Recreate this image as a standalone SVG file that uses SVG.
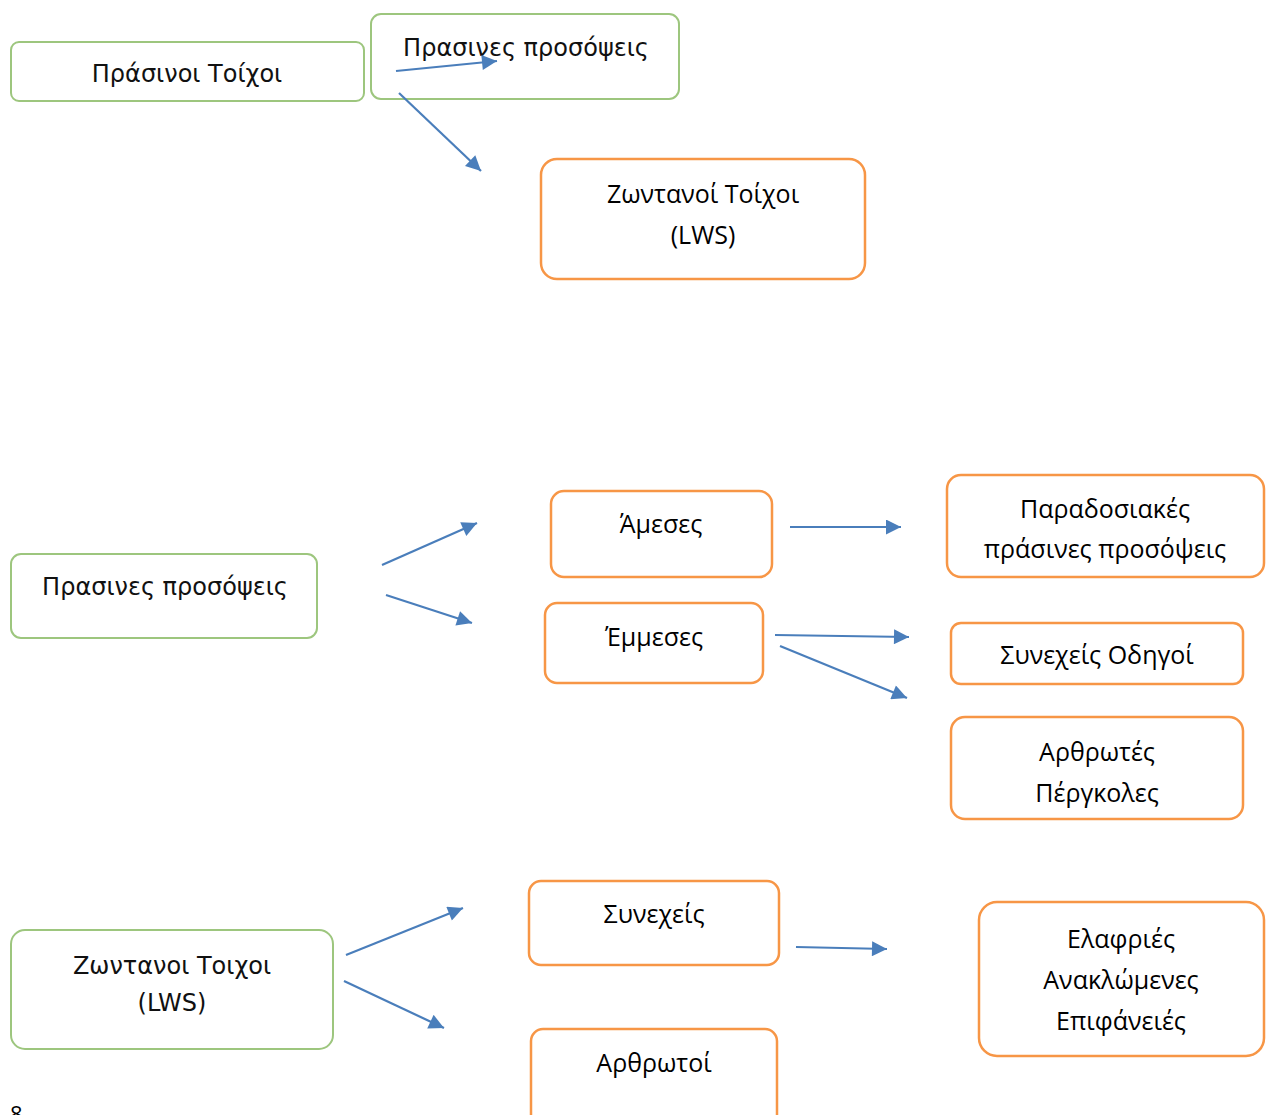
<svg xmlns="http://www.w3.org/2000/svg" width="1267" height="1115" viewBox="0 0 1267 1115">
<defs>
<marker id="ah" viewBox="0 0 10 10" refX="10" refY="5" markerWidth="19" markerHeight="15" markerUnits="userSpaceOnUse" orient="auto">
<path d="M0,0 L10,5 L0,10 z" fill="#4a7ebb"/>
</marker>
<style>
.g{fill:#fff;stroke:#9dc67e;stroke-width:2}
.o{fill:#fff;stroke:#f79646;stroke-width:2.5}
.tg{font-family:"DejaVu Sans",Verdana,sans-serif;font-size:24px;fill:#111;text-anchor:middle}
.to{font-family:"Open Sans","Noto Sans",sans-serif;font-size:25px;fill:#000;text-anchor:middle}
.c line{stroke:#4a7ebb;stroke-width:2.2;marker-end:url(#ah)}
</style>
</defs>
<rect width="1267" height="1115" fill="#fff"/>
<g id="n1"><rect class="g" x="11" y="42" width="353" height="59" rx="8"/><text class="tg" x="187" y="82">Πράσινοι Τοίχοι</text></g>
<g id="n2"><rect class="g" x="371" y="14" width="308" height="85" rx="10"/><text class="tg" x="526" y="56">Πρασινες προσόψεις</text></g>
<g id="n3"><rect class="o" x="541" y="159" width="324" height="120" rx="16"/><text class="to" x="703" y="203">Ζωντανοί Τοίχοι</text><text class="to" x="703" y="244">(LWS)</text></g>
<g id="n4"><rect class="g" x="11" y="554" width="306" height="84" rx="10"/><text class="tg" x="165" y="595">Πρασινες προσόψεις</text></g>
<g id="n5"><rect class="o" x="551" y="491" width="221" height="86" rx="13"/><text class="to" x="661" y="533">Άμεσες</text></g>
<g id="n6"><rect class="o" x="947" y="475" width="317" height="102" rx="14"/><text class="to" x="1105" y="518">Παραδοσιακές</text><text class="to" x="1105" y="558">πράσινες προσόψεις</text></g>
<g id="n7"><rect class="o" x="545" y="603" width="218" height="80" rx="12"/><text class="to" x="654" y="646">Έμμεσες</text></g>
<g id="n8"><rect class="o" x="951" y="623" width="292" height="61" rx="10"/><text class="to" x="1097" y="664">Συνεχείς Οδηγοί</text></g>
<g id="n9"><rect class="o" x="951" y="717" width="292" height="102" rx="14"/><text class="to" x="1097" y="761">Αρθρωτές</text><text class="to" x="1097" y="802">Πέργκολες</text></g>
<g id="n10"><rect class="g" x="11" y="930" width="322" height="119" rx="14"/><text class="tg" x="172" y="974">Ζωντανοι Τοιχοι</text><text class="tg" x="172" y="1011">(LWS)</text></g>
<g id="n11"><rect class="o" x="529" y="881" width="250" height="84" rx="12"/><text class="to" x="654" y="923">Συνεχείς</text></g>
<g id="n12"><rect class="o" x="531" y="1029" width="246" height="100" rx="12"/><text class="to" x="654" y="1072">Αρθρωτοί</text></g>
<g id="n13"><rect class="o" x="979" y="902" width="285" height="154" rx="18"/><text class="to" x="1121" y="948">Ελαφριές</text><text class="to" x="1121" y="989">Ανακλώμενες</text><text class="to" x="1121" y="1030">Επιφάνειές</text></g>
<text x="10" y="1122" style="font-family:'Open Sans',sans-serif;font-size:22px;fill:#000">8</text>
<g id="connectors" class="c">
<line x1="396" y1="71" x2="497" y2="61"/>
<line x1="399" y1="93" x2="481" y2="171"/>
<line x1="382" y1="565" x2="477" y2="523"/>
<line x1="386" y1="595" x2="472" y2="623"/>
<line x1="790" y1="527" x2="901" y2="527"/>
<line x1="775" y1="635" x2="909" y2="637"/>
<line x1="780" y1="646" x2="907" y2="698"/>
<line x1="346" y1="955" x2="463" y2="908"/>
<line x1="344" y1="981" x2="444" y2="1028"/>
<line x1="796" y1="947" x2="887" y2="949"/>
</g>
</svg>
